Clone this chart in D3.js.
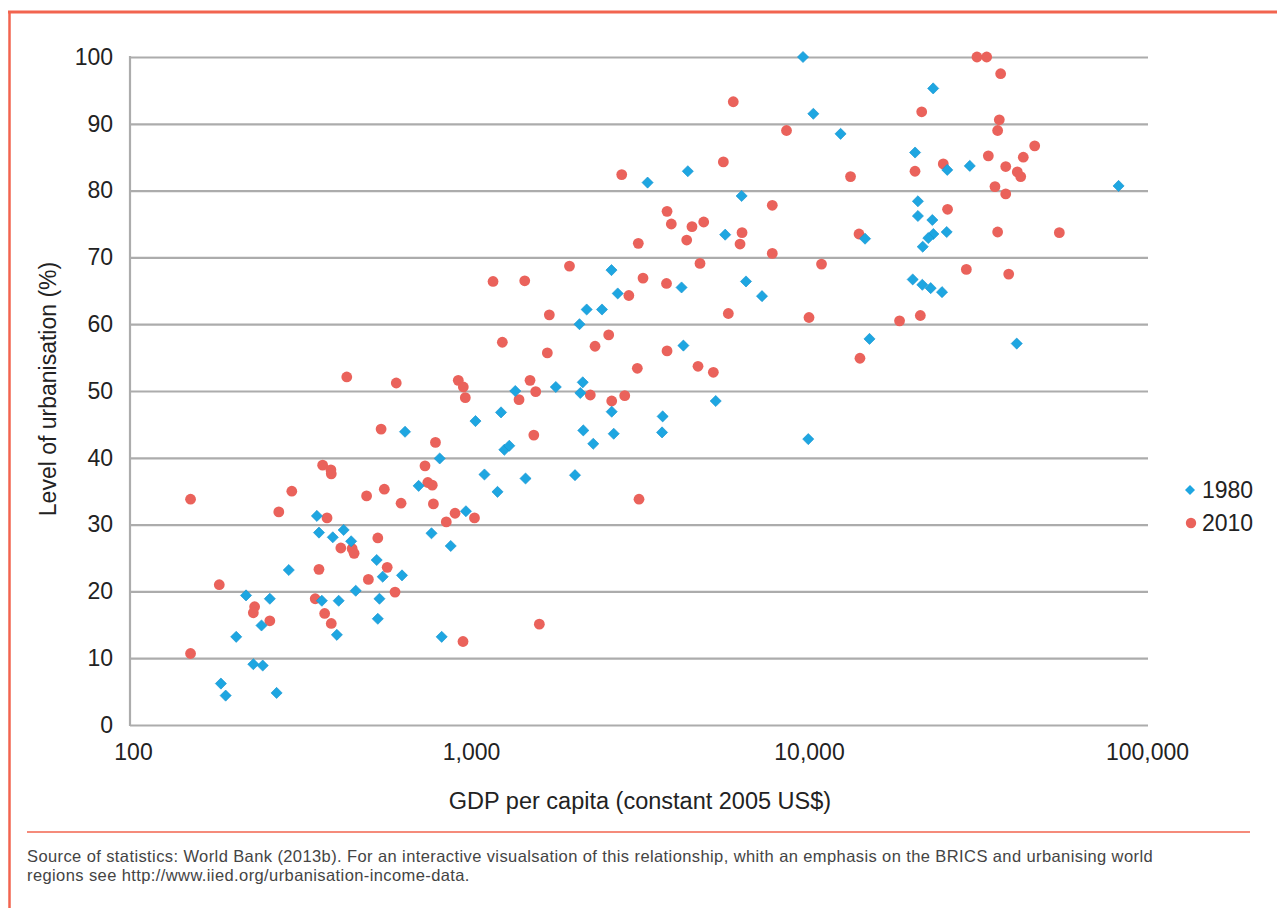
<!DOCTYPE html>
<html>
<head>
<meta charset="utf-8">
<script src="https://cdn.jsdelivr.net/npm/d3@7"></script>
<style>
  html, body { margin: 0; padding: 0; background: #fff; }
  svg { display: block; font-family: "Liberation Sans", Arial, Helvetica, sans-serif; }
</style>
</head>
<body>
<svg id="chart" width="1277" height="908"></svg>
<script>
// GDP per capita (constant 2005 US$) and level of urbanisation (%), 1980
const gdp1980 = [9600, 10300, 23300, 12400, 4380, 3330, 82400, 29900, 20600, 25650,
  6320, 21000, 21000, 23170, 25550, 23330, 22540, 21700, 14650, 5650,
  20270, 21640, 22910, 24750, 15100, 41170, 2604, 2717, 2199, 2441,
  2094, 4197, 6510, 7260, 4250, 5297, 9950, 1352, 1782, 2141,
  2106, 2608, 3690, 3675, 2644, 2149, 2300, 1227, 1031, 638,
  1255, 1298, 808, 1096, 1450, 2031, 700, 1198, 966, 764,
  871, 350, 355, 390, 420, 442, 526, 548, 625, 289,
  456, 216, 254, 362, 406, 536, 240, 202, 401, 530,
  819, 227, 242, 182, 188, 266];
const urb1980 = [100, 91.5, 95.3, 88.5, 82.9, 81.2, 80.7, 83.7, 85.7, 83.1,
  79.2, 78.4, 76.2, 75.6, 73.8, 73.5, 72.9, 71.6, 72.8, 73.4,
  66.7, 65.9, 65.4, 64.8, 57.8, 57.1, 68.1, 64.6, 62.2, 62.2,
  60.0, 65.5, 66.4, 64.2, 56.8, 48.5, 42.8, 50.0, 50.6, 51.3,
  49.7, 46.9, 46.2, 43.8, 43.6, 44.1, 42.1, 46.8, 45.5, 43.9,
  41.2, 41.8, 39.9, 37.5, 36.9, 37.4, 35.8, 34.9, 32.0, 28.7,
  26.8, 31.3, 28.8, 28.1, 29.2, 27.5, 24.7, 22.2, 22.4, 23.2,
  20.1, 19.4, 18.9, 18.6, 18.6, 18.9, 14.9, 13.2, 13.5, 15.9,
  13.2, 9.1, 8.9, 6.2, 4.4, 4.8];

// GDP per capita (constant 2005 US$) and level of urbanisation (%), 2010
const gdp2010 = [31400, 33550, 36900, 21550, 36560, 8580, 36150, 46530, 33930, 43050,
  20590, 24960, 38200, 13270, 41330, 42300, 35500, 38200, 25700, 14060,
  36150, 55030, 10890, 29210, 38980, 10000, 18530, 21350, 14150, 5970,
  5580, 2792, 7787, 3802, 3914, 4506, 4881, 6337, 4347, 6251,
  3126, 7787, 1956, 4759, 3228, 3788, 1162, 1442, 2931, 1705,
  5772, 2555, 2328, 1238, 1682, 3802, 3105, 4695, 5212, 1495,
  1554, 1387, 917, 949, 962, 2254, 2608, 2850, 1534, 3141,
  1024, 1593, 947, 429, 601, 542, 785, 295, 731, 148,
  745, 768, 554, 491, 621, 774, 270, 897, 845, 364,
  385, 386, 375, 530, 412, 445, 451, 355, 565, 497,
  596, 180, 229, 227, 254, 346, 369, 386, 148];
const urb2010 = [100, 100, 97.5, 91.8, 90.6, 89.0, 89.0, 86.7, 85.2, 85.0,
  82.9, 84.0, 83.6, 82.1, 82.8, 82.1, 80.6, 79.5, 77.2, 73.5,
  73.8, 73.7, 69.0, 68.2, 67.5, 61.0, 60.5, 61.3, 54.9, 93.3,
  84.3, 82.4, 77.8, 76.9, 75.0, 74.6, 75.3, 73.7, 72.6, 72.0,
  72.1, 70.6, 68.7, 69.1, 66.9, 66.1, 66.4, 66.5, 64.3, 61.4,
  61.6, 58.4, 56.7, 57.3, 55.7, 56.0, 53.4, 53.7, 52.8, 51.6,
  49.9, 48.7, 51.6, 50.6, 49.0, 49.4, 48.5, 49.3, 43.4, 33.8,
  31.0, 15.1, 12.5, 52.1, 51.2, 44.3, 42.3, 35.0, 38.8, 33.8,
  36.3, 35.9, 35.3, 34.3, 33.2, 33.1, 31.9, 31.7, 30.4, 38.9,
  38.2, 37.6, 31.0, 28.0, 26.5, 26.4, 25.7, 23.3, 23.6, 21.8,
  19.9, 21.0, 17.7, 16.8, 15.6, 18.9, 16.7, 15.2, 10.7];

const xTicks = [100, 1000, 10000, 100000];
const yTicks = [0, 10, 20, 30, 40, 50, 60, 70, 80, 90, 100];
const seriesNames = ["1980", "2010"];

const BLUE = "#1ea6e1";
const RED = "#ea625b";
const FRAME = "#f2644f";
const GRID = "#acacac";
const TEXT = "#222222";

const svg = d3.select("#chart");

// Page frame: top and left rules, separator above the source note
svg.append("line").attr("x1", 8).attr("x2", 1277).attr("y1", 12).attr("y2", 12)
  .attr("stroke", FRAME).attr("stroke-width", 3);
svg.append("line").attr("x1", 9.5).attr("x2", 9.5).attr("y1", 11).attr("y2", 908)
  .attr("stroke", FRAME).attr("stroke-width", 2.5);
svg.append("line").attr("x1", 27).attr("x2", 1250).attr("y1", 832).attr("y2", 832)
  .attr("stroke", FRAME).attr("stroke-width", 1.5);

const plot = { left: 130, right: 1148, top: 57, bottom: 725 };

const x = d3.scaleLog().domain([100, 100000]).range([133, 1147]);
const y = d3.scaleLinear().domain([0, 100]).range([plot.bottom, plot.top]);

// Horizontal gridlines with tick labels
const yAxis = svg.append("g")
  .attr("transform", `translate(${plot.left},0)`)
  .call(d3.axisLeft(y).tickValues(yTicks).tickFormat(d3.format("d"))
    .tickSize(-(plot.right - plot.left)).tickPadding(17));
yAxis.select(".domain").remove();
yAxis.selectAll(".tick line").attr("stroke", GRID).attr("stroke-width", 2.2);
yAxis.selectAll(".tick text").attr("fill", TEXT).attr("font-size", 23)
  .attr("font-family", "Liberation Sans, Arial, sans-serif");

// Left plot edge
svg.append("line").attr("x1", plot.left).attr("x2", plot.left)
  .attr("y1", plot.top - 1).attr("y2", plot.bottom + 1)
  .attr("stroke", GRID).attr("stroke-width", 2.2);

// Logarithmic GDP axis labels
const xAxis = svg.append("g")
  .attr("transform", `translate(0,${plot.bottom})`)
  .call(d3.axisBottom(x).tickValues(xTicks).tickFormat(d3.format(",")).tickSize(0).tickPadding(19));
xAxis.select(".domain").remove();
xAxis.selectAll(".tick text").attr("fill", TEXT).attr("font-size", 23)
  .attr("font-family", "Liberation Sans, Arial, sans-serif");

// Axis titles
svg.append("text").attr("x", 640).attr("y", 809).attr("text-anchor", "middle")
  .attr("font-size", 23.5).attr("fill", TEXT)
  .text("GDP per capita (constant 2005 US$)");
svg.append("text").attr("transform", "translate(56,389) rotate(-90)")
  .attr("text-anchor", "middle").attr("font-size", 23).attr("fill", TEXT)
  .text("Level of urbanisation (%)");

const pts1980 = gdp1980.map((g, i) => ({ g, u: urb1980[i] }));
const pts2010 = gdp2010.map((g, i) => ({ g, u: urb2010[i] }));

// 2010 observations: circles
svg.append("g").selectAll("circle").data(pts2010).join("circle")
  .attr("cx", d => x(d.g)).attr("cy", d => y(d.u)).attr("r", 5.4)
  .attr("fill", RED);

// 1980 observations: diamonds
const diamond = d3.symbol().type(d3.symbolSquare).size(62);
svg.append("g").selectAll("path").data(pts1980).join("path")
  .attr("d", diamond)
  .attr("transform", d => `translate(${x(d.g)},${y(d.u)}) rotate(45)`)
  .attr("fill", BLUE).attr("stroke", "#1593cf").attr("stroke-width", 0.6);

// Legend
const legend = svg.append("g");
legend.append("path").attr("d", d3.symbol().type(d3.symbolSquare).size(50)())
  .attr("transform", "translate(1190,490) rotate(45)").attr("fill", BLUE);
legend.append("circle").attr("cx", 1191).attr("cy", 523).attr("r", 5.2).attr("fill", RED);
legend.selectAll("text").data(seriesNames).join("text")
  .attr("x", 1202).attr("y", (d, i) => 498 + i * 33)
  .attr("font-size", 23).attr("fill", TEXT).text(d => d);

// Source note
const note = svg.append("text").attr("font-size", 16.5).attr("letter-spacing", 0.4).attr("fill", "#444");
note.append("tspan").attr("x", 27).attr("y", 862)
  .text("Source of statistics: World Bank (2013b). For an interactive visualsation of this relationship, whith an emphasis on the BRICS and urbanising world");
note.append("tspan").attr("x", 27).attr("y", 881)
  .text("regions see http://www.iied.org/urbanisation-income-data.");
</script>
</body>
</html>
